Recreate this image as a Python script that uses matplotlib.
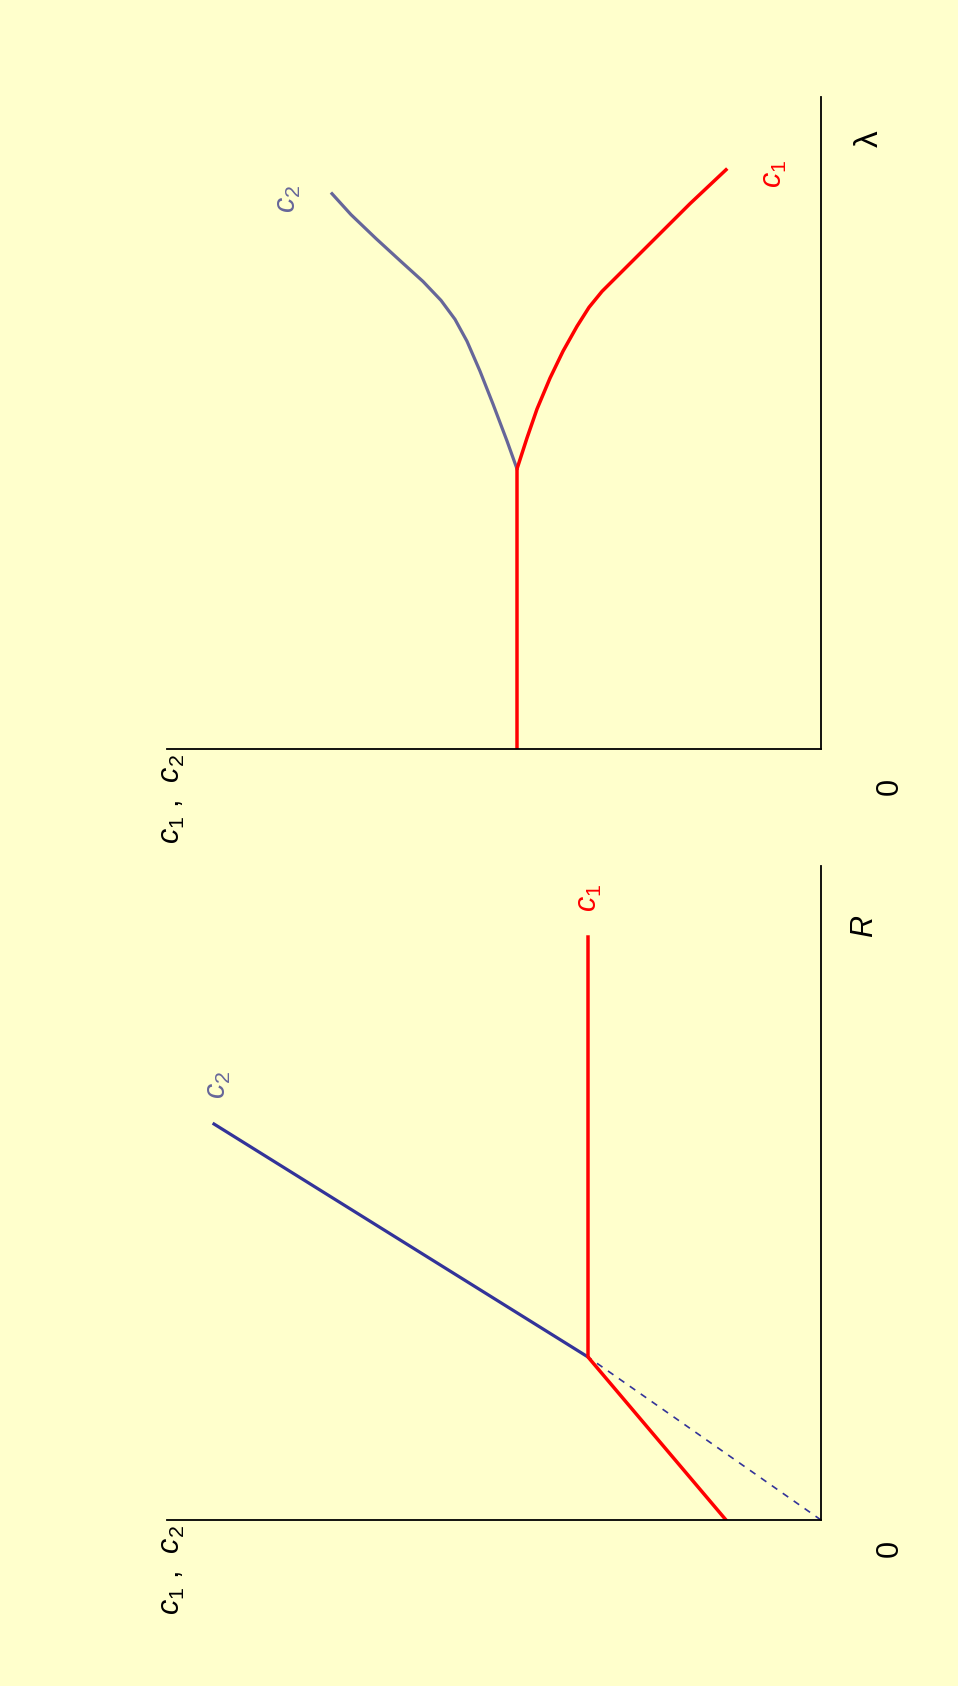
import matplotlib
matplotlib.use("Agg")
import matplotlib.pyplot as plt

plt.rcParams['font.family'] = ['Liberation Sans', 'DejaVu Sans']
plt.rcParams['mathtext.fontset'] = 'custom'
plt.rcParams['mathtext.rm'] = 'Liberation Sans'
plt.rcParams['mathtext.it'] = 'Liberation Sans:italic'

# ---- data (c on horizontal, parameter on vertical) ----
# Lower panel: c1, c2 versus R
low_c1_c = [95, 233, 233]
low_c1_R = [0, 163, 583]
low_c2_dash_c = [0, 233]
low_c2_dash_R = [0, 163]
low_c2_c = [233, 607]
low_c2_R = [163, 396]

# Upper panel: c1, c2 versus lambda
up_c1_c = [304, 304, 294, 284, 271, 258, 244, 232, 219, 204, 188, 164, 131, 95]
up_c1_l = [0, 281, 312, 341, 372, 399, 424, 443, 459, 474, 490, 514, 547, 581]
up_c2_c = [304, 314, 328, 341, 354, 366, 380, 398, 420, 445, 470, 489]
up_c2_l = [281, 309, 346, 379, 409, 431, 450, 469, 489, 512, 536, 557]

AX_MAX = 654
BG = '#FFFFCC'
RED = '#FF0000'
BLUE = '#333399'
BLUE2 = '#666699'

W, H = 958, 1686
fig = plt.figure(figsize=(W / 100, H / 100), dpi=100, facecolor=BG)


def make_ax(left, top, right, bottom):
    ax = fig.add_axes([left / W, 1 - bottom / H, (right - left) / W, (bottom - top) / H])
    ax.set_facecolor('none')
    ax.set_xlim(AX_MAX, 0)
    ax.set_ylim(0, AX_MAX)
    for s in ['left', 'top']:
        ax.spines[s].set_visible(False)
    for s in ['right', 'bottom']:
        ax.spines[s].set_linewidth(1.3)
        ax.spines[s].set_color('black')
    ax.set_xticks([])
    ax.set_yticks([])
    return ax


fs = 22
lab = r'$\mathit{c}_1$ ,  $\mathit{c}_2$'

# Lower panel
ax1 = make_ax(167, 866, 821, 1520)
ax1.plot(low_c2_dash_c, low_c2_dash_R, color=BLUE, lw=1.2, ls=(0, (4, 4)), solid_capstyle='butt')
ax1.plot(low_c2_c, low_c2_R, color=BLUE, lw=2.3)
ax1.plot(low_c1_c, low_c1_R, color=RED, lw=2.5)
ax1.text(-69, -28, '0', rotation=90, fontsize=fs, ha='center', va='center', clip_on=False)
ax1.text(649, -50, lab, rotation=90, fontsize=fs, ha='center', va='center', clip_on=False)
ax1.text(-44, 594, r'$\mathit{R}$', rotation=90, fontsize=fs, ha='center', va='center', clip_on=False)
ax1.text(603, 435, r'$\mathit{c}_2$', rotation=90, fontsize=fs, color=BLUE2, ha='center', va='center', clip_on=False)
ax1.text(232, 622, r'$\mathit{c}_1$', rotation=90, fontsize=fs, color=RED, ha='center', va='center', clip_on=False)

# Upper panel
ax2 = make_ax(167, 97, 821, 749)
ax2.plot(up_c2_c, up_c2_l, color=BLUE2, lw=2.3)
ax2.plot(up_c1_c, up_c1_l, color=RED, lw=2.5)
ax2.text(-69, -38, '0', rotation=90, fontsize=fs, ha='center', va='center', clip_on=False)
ax2.text(649, -50, lab, rotation=90, fontsize=fs, ha='center', va='center', clip_on=False)
ax2.text(-48, 612, 'λ', rotation=90, fontsize=fs + 2, ha='center', va='center', clip_on=False)
ax2.text(533, 552, r'$\mathit{c}_2$', rotation=90, fontsize=fs, color=BLUE2, ha='center', va='center', clip_on=False)
ax2.text(47, 577, r'$\mathit{c}_1$', rotation=90, fontsize=fs, color=RED, ha='center', va='center', clip_on=False)

fig.savefig('out.png', dpi=100, facecolor=BG)
